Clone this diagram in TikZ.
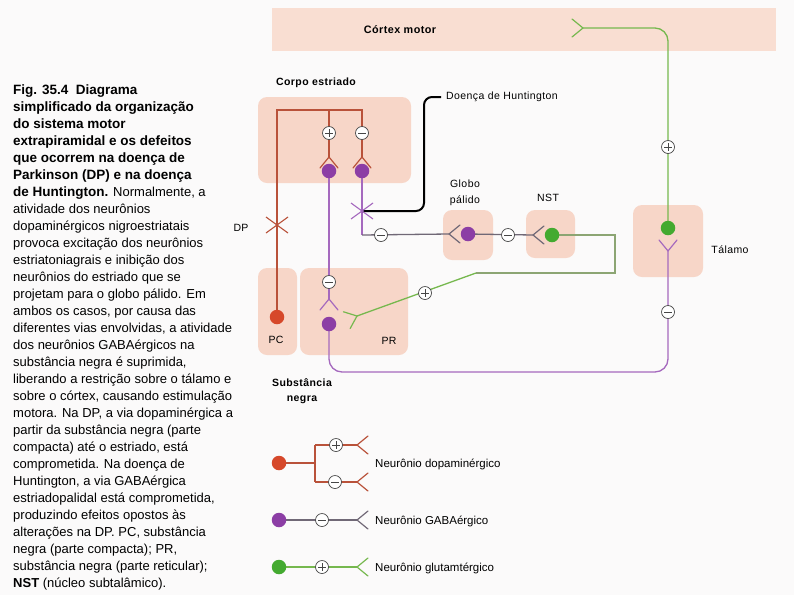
\documentclass[tikz,border=0pt]{standalone}
\usepackage{fontspec}
\setmainfont{Liberation Sans}
\newfontfamily\lblfont[LetterSpace=4]{Liberation Sans}
\usetikzlibrary{calc}
\definecolor{bgpage}{RGB}{251,250,250}
\definecolor{boxpink}{RGB}{247,214,200}
\definecolor{cortexpink}{RGB}{249,222,210}
\definecolor{redax}{RGB}{185,82,58}
\definecolor{reddot}{RGB}{214,72,42}
\definecolor{purpax}{RGB}{165,105,190}
\definecolor{purpdot}{RGB}{140,62,165}
\definecolor{grayax}{RGB}{112,104,118}
\definecolor{greenax}{RGB}{118,184,78}
\definecolor{olivax}{RGB}{140,165,115}
\definecolor{greendot}{RGB}{68,170,48}
\definecolor{signline}{RGB}{70,70,70}
\pgfdeclarelayer{bg}\pgfdeclarelayer{ax}\pgfsetlayers{bg,ax,main}
\tikzset{
  region/.style={fill=boxpink, rounded corners=9pt},
  celldot/.style={circle, inner sep=0pt, minimum size=14.5pt},
  sgn/.style={circle, draw=signline, fill=white, line width=0.7pt, inner sep=0pt, minimum size=13pt},
  plussign/.style={sgn, path picture={\draw[signline, line width=0.8pt]
     ([xshift=-3.6pt]path picture bounding box.center) -- ([xshift=3.6pt]path picture bounding box.center)
     ([yshift=-3.6pt]path picture bounding box.center) -- ([yshift=3.6pt]path picture bounding box.center);}},
  minussign/.style={sgn, path picture={\draw[signline, line width=0.8pt]
     ([xshift=-3.6pt]path picture bounding box.center) -- ([xshift=3.6pt]path picture bounding box.center);}},
  axon/.style={line width=1.3pt},
  forkpic/.pic={\draw[line width=1.2pt, line cap=round] (0,0) -- (11pt,9pt) (0,0) -- (11pt,-9pt);},
  xmark/.pic={\draw[line width=1.1pt] (-11pt,8pt) -- (11pt,-8pt) (-11pt,-8pt) -- (11pt,8pt);},
  lbl/.style={inner sep=0pt, font=\lblfont\fontsize{10.5}{12}\selectfont},
  lblb/.style={inner sep=0pt, font=\lblfont\bfseries\fontsize{10.5}{12}\selectfont},
  legtxt/.style={inner sep=0pt, anchor=west, font=\fontsize{11.5}{12}\selectfont},
}
\begin{document}
\begin{tikzpicture}[x=1pt,y=-1pt]
\useasboundingbox (0,0) rectangle (794,595);
\begin{pgfonlayer}{bg}
\fill[bgpage] (0,0) rectangle (794,595);
\fill[cortexpink] (272,8) rectangle (776,51);
\fill[region] (258,97) rectangle (411,183);
\fill[region] (443,210) rectangle (493,260);
\fill[region] (526,210) rectangle (575,258);
\fill[region] (633,205) rectangle (703,277);
\fill[region] (258,268) rectangle (297,355);
\fill[region] (300,268) rectangle (408,355);
\end{pgfonlayer}

% caption
\node[anchor=north west, align=left, inner sep=0pt,
      font=\fontsize{13}{17}\selectfont] (caption) at (13,84.5) {%
{\fontsize{13.5}{17}\selectfont\bfseries Fig. 35.4\ \ Diagrama}\\
{\fontsize{13.5}{17}\selectfont\bfseries simplificado da organização}\\
{\fontsize{13.5}{17}\selectfont\bfseries do sistema motor}\\
{\fontsize{13.5}{17}\selectfont\bfseries extrapiramidal e os defeitos}\\
{\fontsize{13.5}{17}\selectfont\bfseries que ocorrem na doença de}\\
{\fontsize{13.5}{17}\selectfont\bfseries Parkinson (DP) e na doença}\\
{\fontsize{13.5}{17}\selectfont\bfseries de Huntington.} Normalmente, a\\
atividade dos neurônios\\
dopaminérgicos nigroestriatais\\
provoca excitação dos neurônios\\
estriatoniagrais e inibição dos\\
neurônios do estriado que se\\
projetam para o globo pálido. Em\\
ambos os casos, por causa das\\
diferentes vias envolvidas, a atividade\\
dos neurônios GABAérgicos na\\
substância negra é suprimida,\\
liberando a restrição sobre o tálamo e\\
sobre o córtex, causando estimulação\\
motora. Na DP, a via dopaminérgica a\\
partir da substância negra (parte\\
compacta) até o estriado, está\\
comprometida. Na doença de\\
Huntington, a via GABAérgica\\
estriadopalidal está comprometida,\\
produzindo efeitos opostos às\\
alterações na DP. PC, substância\\
negra (parte compacta); PR,\\
substância negra (parte reticular);\\
{\bfseries NST} (núcleo subtalâmico).};

% labels
\node[lblb, font=\lblfont\bfseries\fontsize{10.8}{12}\selectfont] (cortex) at (400,30) {Córtex motor};
\node[lblb] (estriado) at (316,83) {Corpo estriado};
\node[lbl, anchor=west] (hunt) at (446,97) {Doença de Huntington};
\node[lbl] (dp) at (241,228) {DP};
\node[lbl] (globo1) at (465,184) {Globo};
\node[lbl] (globo2) at (465,201) {pálido};
\node[lbl] (nstl) at (548,198) {NST};
\node[lbl] (talamo) at (730,250) {Tálamo};
\node[lbl] (pcl) at (276,340) {PC};
\node[lbl] (prl) at (389,341) {PR};
\node[lblb] (sn1) at (302,383) {Substância};
\node[lblb] (sn2) at (302,400) {negra};

% cells
\node[celldot, fill=purpdot] (sdA) at (329,171) {};
\node[celldot, fill=purpdot] (sdB) at (362,171) {};
\node[celldot, fill=reddot] (pc) at (277,317) {};
\node[celldot, fill=purpdot] (pr) at (329,324) {};
\node[celldot, fill=purpdot] (gp) at (468,234) {};
\node[celldot, fill=greendot] (nst) at (552,235) {};
\node[celldot, fill=greendot] (th) at (668,228) {};

% signs
\node[plussign] (s1) at (329,133) {};
\node[minussign] (s2) at (362,133) {};
\node[minussign] (s3) at (329,282) {};
\node[minussign] (s4) at (381,235) {};
\node[minussign] (s5) at (508,235) {};
\node[plussign] (s6) at (425,293) {};
\node[plussign] (s7) at (668,147) {};
\node[minussign] (s8) at (668,312) {};

% fork apexes and corners
\coordinate (fA) at (329,157);
\coordinate (fB) at (362,157);
\coordinate (fPR) at (329,299);
\coordinate (fGP) at (449,234);
\coordinate (fNST) at (533,235);
\coordinate (fCx) at (583,28);
\coordinate (fTh) at (668,251);
\coordinate (fPRg) at (357,316);
\coordinate (rL) at (277,110);
\coordinate (rM) at (329,110);
\coordinate (rR) at (362,110);
\coordinate (xR) at (277,225);
\coordinate (xP) at (362,211);
\coordinate (cB) at (362,235);
\coordinate (n1) at (615,235);
\coordinate (n2) at (615,273);
\coordinate (n3) at (476,273);
\coordinate (t1) at (668,28);
\coordinate (t2) at (668,372);
\coordinate (t3) at (329,372);
\coordinate (h1) at (424,211);
\coordinate (h2) at (424,97);

\begin{pgfonlayer}{ax}
\draw[axon, redax] (pc.center) -- (rL) -- (rR) -- (fB);
\draw[axon, redax] (rM) -- (fA);
\draw[axon, purpax] (sdA.center) -- (fPR);
\draw[axon, purpax] (sdB.center) -- (cB);
\draw[axon, grayax] (cB) -- (fGP);
\draw[axon, grayax] (gp.center) -- (fNST);
\draw[axon, olivax, line width=1.6pt] (nst.center) -- (n1) -- (n2) -- (n3);
\draw[axon, greenax] (n3) -- (fPRg);
\draw[axon, greenax, rounded corners=13pt] (th.center) -- (t1) -- (fCx);
\draw[axon, purpax, rounded corners=13pt] (fTh) -- (t2) -- (t3) -- (pr.center);
\draw[line width=2pt, black, rounded corners=8pt] (xP) -- (h1) -- (h2) -- ([xshift=-5pt]hunt.west);
\end{pgfonlayer}

% forks
\pic[redax, rotate=-90] at (fA) {forkpic};
\pic[redax, rotate=-90] at (fB) {forkpic};
\pic[purpax, rotate=-90] at (fPR) {forkpic};
\pic[grayax] at (fGP) {forkpic};
\pic[grayax] at (fNST) {forkpic};
\pic[greenax, rotate=180] at (fCx) {forkpic};
\pic[purpax, rotate=90] at (fTh) {forkpic};
\pic[greenax, rotate=202] at (fPRg) {forkpic};
\pic[redax] at (xR) {xmark};
\pic[purpax] at (xP) {xmark};

% legend
\node[celldot, fill=reddot] (lr) at (279,463) {};
\node[celldot, fill=purpdot] (lp) at (279,520) {};
\node[celldot, fill=greendot] (lg) at (279,567) {};
\node[plussign] (ls1) at (336,445) {};
\node[minussign] (ls2) at (335,482) {};
\node[minussign] (ls3) at (322,520) {};
\node[plussign] (ls4) at (322,567) {};
\coordinate (lj) at (315,463);
\coordinate (ljT) at (315,445);
\coordinate (ljB) at (315,482);
\coordinate (lf1) at (357,445);
\coordinate (lf2) at (357,482);
\coordinate (lf3) at (357,520);
\coordinate (lf4) at (357,567);
\begin{pgfonlayer}{ax}
\draw[axon, redax] (lr.center) -- (lj);
\draw[axon, redax] (ljT) -- (ljB);
\draw[axon, redax] (ljT) -- (lf1);
\draw[axon, redax] (ljB) -- (lf2);
\draw[axon, grayax] (lp.center) -- (lf3);
\draw[axon, greenax] (lg.center) -- (lf4);
\end{pgfonlayer}
\pic[redax] at (lf1) {forkpic};
\pic[redax] at (lf2) {forkpic};
\pic[grayax] at (lf3) {forkpic};
\pic[greenax] at (lf4) {forkpic};
\node[legtxt] (lt1) at (375,464) {Neurônio dopaminérgico};
\node[legtxt] (lt2) at (375,521) {Neurônio GABAérgico};
\node[legtxt] (lt3) at (375,568) {Neurônio glutamtérgico};
\end{tikzpicture}
\end{document}
